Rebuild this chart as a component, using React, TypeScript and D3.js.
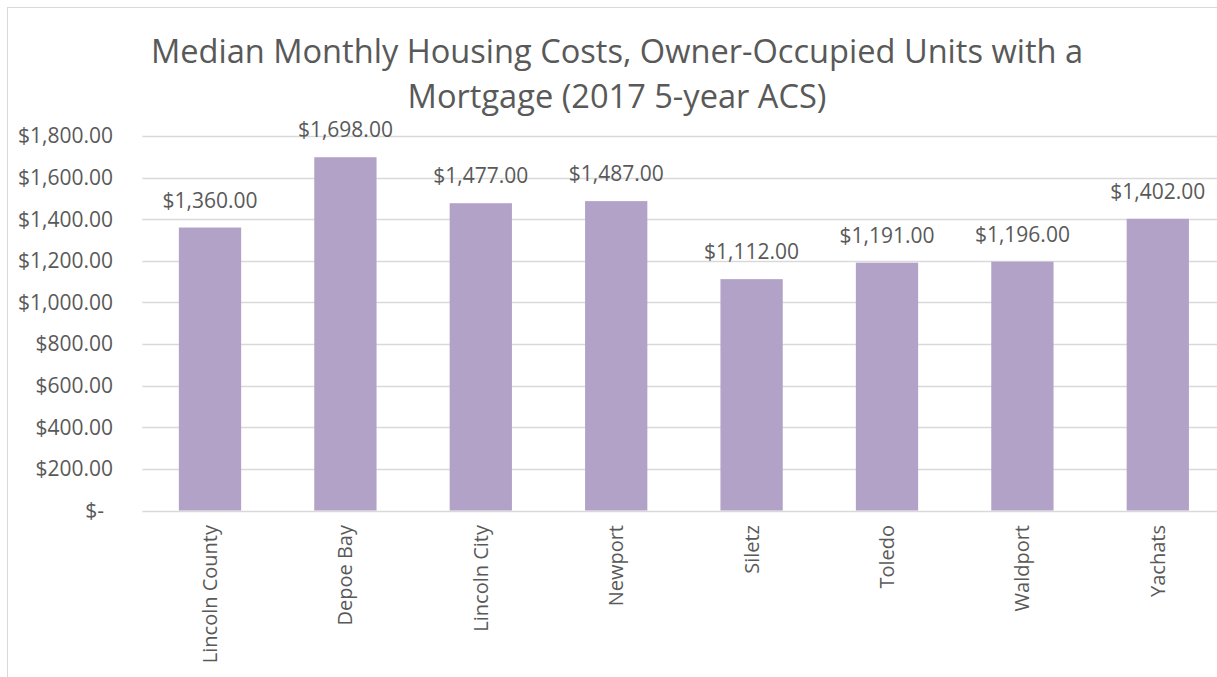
import React from 'react';
import * as d3 from 'd3';

// data
const places = ['Lincoln County', 'Depoe Bay', 'Lincoln City', 'Newport', 'Siletz', 'Toledo', 'Waldport', 'Yachats'];
const costs = [1360, 1698, 1477, 1487, 1112, 1191, 1196, 1402];
const yTicks = [0, 200, 400, 600, 800, 1000, 1200, 1400, 1600, 1800];
const titleLines = ['Median Monthly Housing Costs, Owner-Occupied Units with a', 'Mortgage (2017 5-year ACS)'];

const W = 1217;
const H = 677;
const font = '"Open Sans", sans-serif';
const textColor = '#595959';

const fmt = (v: number) => (v === 0 ? '$-' : '$' + d3.format(',.2f')(v));

const App = () => {
  const left = 142.3;
  const right = 1225.5;
  const top = 136;
  const bottom = 510.5;

  const x = d3.scaleBand().domain(places).range([left, right]).paddingInner(0.54).paddingOuter(0.27);
  const y = d3.scaleLinear().domain([0, 1800]).range([bottom, top]);

  return (
    <svg width={W} height={H} style={{ position: 'absolute', left: 0, top: 0, background: '#fff' }}>
      <rect x={7.5} y={7.5} width={1220} height={700} fill="#fff" stroke="#d9d9d9" strokeWidth={1} />

      {/* title */}
      {titleLines.map((t, i) => (
        <text key={i} x={617} y={63 + i * 45} textAnchor="middle" fontFamily={font} fontSize={32.6} fill={textColor}>
          {t}
        </text>
      ))}

      {/* gridlines */}
      {yTicks.map((t) => (
        <line key={t} x1={left} x2={right} y1={Math.round(y(t)) + 0.5} y2={Math.round(y(t)) + 0.5}
          stroke="#d9d9d9" strokeWidth={1.3} />
      ))}

      {/* y tick labels */}
      {yTicks.map((t) => (
        <text key={t} x={t === 0 ? 104 : 113} y={y(t)} dy="0.35em" textAnchor="end"
          fontFamily={font} fontSize={21} fill={textColor}>
          {fmt(t)}
        </text>
      ))}

      {/* bars */}
      {places.map((p, i) => (
        <rect key={p} x={x(p)} y={y(costs[i])} width={x.bandwidth()} height={bottom - y(costs[i])} fill="#b3a2c7" />
      ))}

      {/* data labels */}
      {places.map((p, i) => (
        <text key={p} x={(x(p) as number) + x.bandwidth() / 2} y={y(costs[i]) - 20} textAnchor="middle"
          fontFamily={font} fontSize={21} fill={textColor}>
          {fmt(costs[i])}
        </text>
      ))}

      {/* category labels */}
      {places.map((p) => {
        const cx = (x(p) as number) + x.bandwidth() / 2;
        return (
          <text key={p} transform={`translate(${cx},525) rotate(-90)`} dy="0.35em" textAnchor="end"
            fontFamily={font} fontSize={20} fill={textColor}>
            {p}
          </text>
        );
      })}
    </svg>
  );
};

export default App;
